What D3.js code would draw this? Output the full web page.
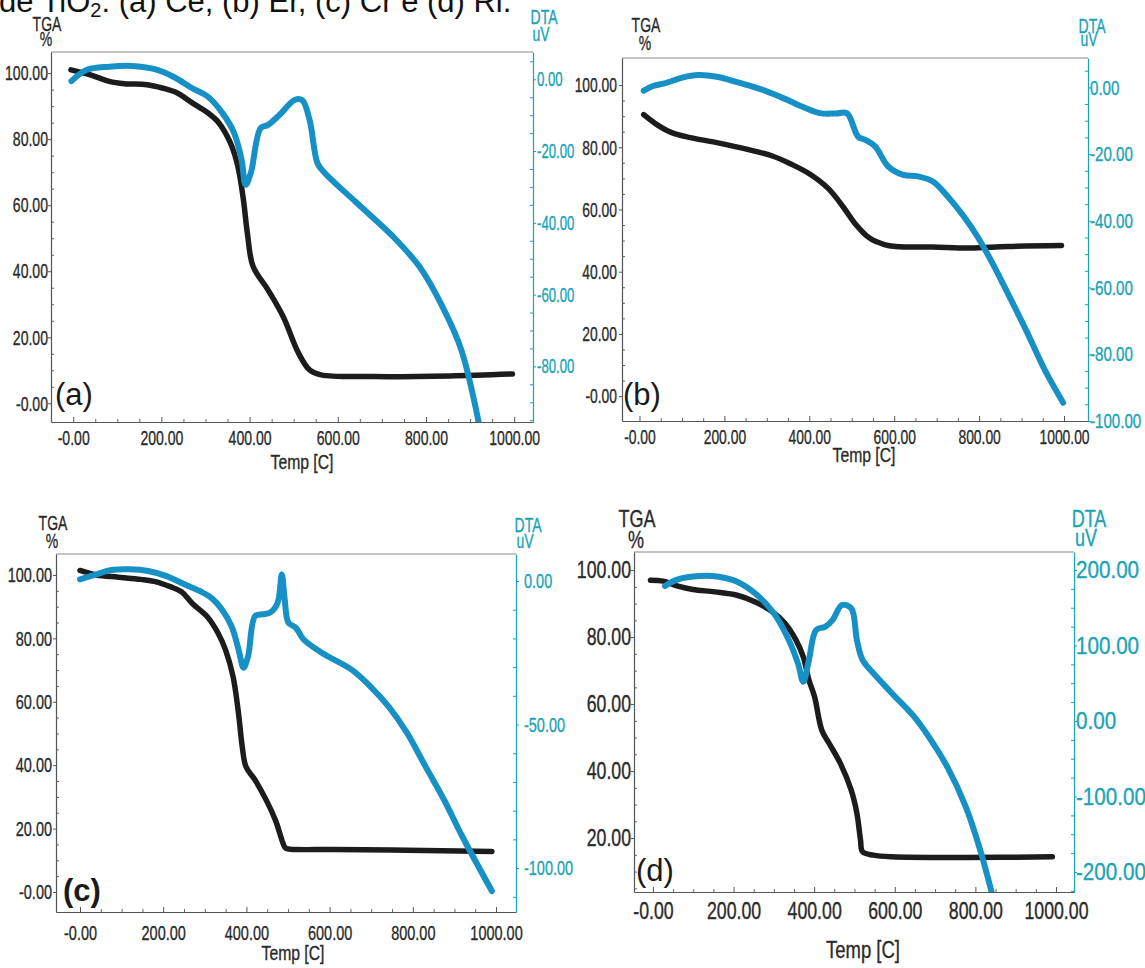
<!DOCTYPE html>
<html>
<head>
<meta charset="UTF-8">
<script src="https://cdn.jsdelivr.net/npm/d3@7"></script>
<style>
  body { margin: 0; background: #fff; }
  svg { display: block; font-family: "Liberation Sans", Arial, sans-serif; }
  .heavy { stroke-width: 0.35px; }
</style>
</head>
<body>
<svg id="chart" width="1145" height="968"></svg>
<script>
// ---- data ----
const tempTicks = [0, 200, 400, 600, 800, 1000];
const tgaTicks = [0, 20, 40, 60, 80, 100];
const dtaTicksA = [0, -20, -40, -60, -80];
const dtaTicksB = [0, -20, -40, -60, -80, -100];
const dtaTicksC = [0, -50, -100];
const dtaTicksD = [200, 100, 0, -100, -200];

// (a)
const tgaTempA = [-5, 39, 82, 116, 167, 202, 236, 270, 305, 330, 356, 373, 386, 395, 408, 442, 476, 511, 536, 562, 682, 854, 996];
const tgaValA  = [101, 99.5, 97.5, 96.8, 96.5, 95.5, 94, 91, 88, 85, 79, 72, 61.6, 51.5, 41.4, 34.3, 26.3, 15.2, 10.1, 8.6, 8.1, 8.3, 8.9];
const dtaTempA = [-4, 30, 82, 133, 185, 227, 270, 305, 339, 365, 382, 391, 403, 425, 442, 468, 502, 519, 536, 554, 571, 639, 725, 785, 837, 880, 925];
const dtaValA  = [-0.5, 2.6, 3.5, 3.7, 2.8, 0.7, -2.5, -4.8, -9.5, -15, -22.5, -29.4, -26, -13.6, -12.7, -9.9, -5.8, -5.8, -11.3, -23.4, -26.2, -34, -43.8, -52.2, -63.3, -75.4, -99];

// (b)
const tgaTempB = [10, 41, 76, 120, 182, 252, 313, 357, 401, 445, 480, 507, 542, 577, 603, 691, 779, 867, 994];
const tgaValB  = [90.5, 87.3, 84.7, 83.1, 81.5, 79.4, 77.2, 74.6, 71.4, 66.7, 60.8, 55.6, 50.8, 48.7, 48.1, 47.9, 47.6, 48.1, 48.4];
const dtaTempB = [10, 32, 59, 103, 138, 182, 234, 287, 340, 384, 428, 463, 489, 515, 533, 555, 586, 621, 656, 691, 726, 761, 796, 831, 867, 910, 954, 998];
const dtaValB  = [-1.0, 0.4, 1.2, 3.0, 3.7, 3.2, 1.4, -0.6, -3.3, -5.8, -7.8, -7.8, -7.8, -14.8, -15.8, -17.7, -23.7, -26.2, -26.7, -28.2, -32.7, -38.2, -44.7, -52.6, -61.6, -72.6, -84.5, -94.5];

// (c)
const tgaTempC = [0, 39, 92, 146, 181, 217, 244, 270, 306, 332, 350, 368, 381, 390, 399, 421, 448, 470, 492, 497, 608, 786, 990];
const tgaValC  = [101.4, 100, 99.3, 98.6, 97.9, 96.3, 94.7, 91, 86.8, 81.6, 76.3, 67.9, 56.3, 45.8, 39.5, 35.3, 28.9, 22.6, 14.2, 13.7, 13.4, 13.2, 12.8];
const dtaTempC = [0, 39, 75, 119, 164, 208, 252, 288, 315, 341, 364, 381, 393, 404, 421, 439, 457, 475, 485, 492, 501, 519, 537, 581, 652, 697, 741, 786, 830, 875, 919, 990];
const dtaValC  = [0.6, 2.3, 3.8, 4.1, 3.5, 1.7, -1.2, -3.5, -5.8, -9.9, -15.7, -23.8, -30.2, -26.2, -12.2, -11.6, -11.0, -7.6, 2.3, -6.4, -14.5, -16.3, -20.3, -25, -30.8, -36.6, -43.6, -52.9, -64.5, -76.2, -89, -108];

// (d)
const tgaTempD = [-6, 26, 62, 99, 154, 209, 254, 291, 327, 355, 373, 387, 401, 419, 437, 465, 492, 506, 515, 520, 547, 593, 776, 991];
const tgaValD  = [97, 96.7, 95.2, 94.2, 93.5, 92.5, 90.5, 88, 84.2, 79.1, 74.1, 67.2, 62.2, 52.2, 48.3, 42.3, 34.3, 27.4, 19.4, 15.9, 14.9, 14.4, 14.2, 14.4];
const dtaTempD = [30, 62, 117, 163, 209, 254, 300, 337, 360, 373, 387, 405, 428, 446, 469, 492, 506, 520, 547, 593, 648, 684, 730, 776, 812, 840];
const dtaValD  = [178.8, 187.6, 192, 191.1, 184.5, 168.8, 142.6, 107.3, 76, 52, 80.8, 120.5, 124.9, 133.8, 153.6, 149.3, 107.3, 80.8, 63.1, 36.6, 5.7, -20.8, -60.5, -113.5, -170.9, -226];

// ---- layout of each panel ----
const panels = [
  { letter: "(a)", tgaT: tgaTempA, tgaV: tgaValA, dtaT: dtaTempA, dtaV: dtaValA, dtaTicks: dtaTicksA, dtaMinor: 5,
    box: { l: 51, r: 533, t: 52, b: 422 }, xDom: [-50.3, 1042.6], tgaDom: [-5.66, 106.4], dtaDom: [-95.5, 7.6],
    fs: 21, sx: 0.67, rfs: 20, rsx: 0.66, lGap: 3, rGap: 4, xBase: 445,
    temp: { x: 302, y: 469, fs: 21, sx: 0.75 }, tga: { x: 47, y: 31, y2: 46, fs: 20, sx: 0.7 },
    dta: { x: 544, y: 24, y2: 41, fs: 20, sx: 0.7 }, let: { x: 55, y: 405, bold: false } },
  { letter: "(b)", tgaT: tgaTempB, tgaV: tgaValB, dtaT: dtaTempB, dtaV: dtaValB, dtaTicks: dtaTicksB, dtaMinor: 5,
    box: { l: 622, r: 1088, t: 58, b: 421 }, xDom: [-41.2, 1056.5], tgaDom: [-8.0, 108.7], dtaDom: [-100, 8.8],
    fs: 21, sx: 0.66, rfs: 21, rsx: 0.72, lGap: 5, rGap: 2, xBase: 444,
    temp: { x: 864, y: 462, fs: 21, sx: 0.75 }, tga: { x: 646, y: 32, y2: 50, fs: 20, sx: 0.7 },
    dta: { x: 1092, y: 33, y2: 46, fs: 20, sx: 0.7 }, let: { x: 623, y: 405, bold: false } },
  { letter: "(c)", tgaT: tgaTempC, tgaV: tgaValC, dtaT: dtaTempC, dtaV: dtaValC, dtaTicks: dtaTicksC, dtaMinor: 10,
    box: { l: 56, r: 516, t: 554, b: 912 }, xDom: [-57.7, 1048], tgaDom: [-6.3, 106.6], dtaDom: [-115.3, 9.4],
    fs: 21, sx: 0.69, rfs: 21, rsx: 0.69, lGap: 4, rGap: 8, xBase: 940,
    temp: { x: 293, y: 960, fs: 21, sx: 0.75 }, tga: { x: 53, y: 530, y2: 548, fs: 20, sx: 0.7 },
    dta: { x: 528, y: 532, y2: 548, fs: 20, sx: 0.7 }, let: { x: 63, y: 901, bold: true } },
  { letter: "(d)", tgaT: tgaTempD, tgaV: tgaValD, dtaT: dtaTempD, dtaV: dtaValD, dtaTicks: dtaTicksD, dtaMinor: 25,
    box: { l: 634, r: 1074, t: 552, b: 892 }, xDom: [-47, 1044.7], tgaDom: [3.9, 105.4], dtaDom: [-226.5, 223.8],
    fs: 23, sx: 0.77, rfs: 24, rsx: 0.86, lGap: 3, rGap: 2, xBase: 919,
    temp: { x: 863, y: 958, fs: 24, sx: 0.77 }, tga: { x: 637, y: 527, y2: 548, fs: 24, sx: 0.75 },
    dta: { x: 1089, y: 527, y2: 546, fs: 24, sx: 0.75 }, let: { x: 636, y: 881, bold: false } }
];

const ink = "#2a2a2a";
const blue = "#1790c6";
const teal = "#1ba3b6";
const fmtZero = v => v === 0 ? "-0.00" : v.toFixed(2);
const fmtDta = v => v.toFixed(2);

const svg = d3.select("#chart");

// caption cut off at the top edge of the picture
const cap = svg.append("text").attr("x", -1).attr("y", 12)
  .attr("font-size", 31).attr("fill", "#111");
cap.append("tspan").text("de TiO");
cap.append("tspan").attr("font-size", 20).attr("dy", 5).text("2");
cap.append("tspan").attr("dy", -5).text(": (a) Ce, (b) Er, (c) Cr e (d) Ri.");

function styleAxis(g, fs, sx, color, domainColor) {
  g.attr("font-family", null).attr("font-size", null);
  g.select(".domain").attr("stroke", domainColor).attr("stroke-width", 1.2);
  g.selectAll(".tick line").attr("stroke", domainColor);
  g.selectAll(".tick text").attr("fill", color).attr("stroke", color).attr("class", "heavy")
    .style("font-size", fs + "px").attr("transform", `scale(${sx},1)`);
}

function label(x, y, txt, fs, sx, color, anchor) {
  svg.append("text").attr("transform", `translate(${x},${y}) scale(${sx},1)`)
    .attr("text-anchor", anchor || "middle").style("font-size", fs + "px")
    .attr("fill", color).attr("stroke", color).attr("class", "heavy").text(txt);
}

panels.forEach((p, i) => {
  const b = p.box;
  const x = d3.scaleLinear().domain(p.xDom).range([b.l, b.r]);
  const yl = d3.scaleLinear().domain(p.tgaDom).range([b.b, b.t]);
  const yr = d3.scaleLinear().domain(p.dtaDom).range([b.b, b.t]);
  const g = svg.append("g");

  // top frame line
  g.append("line").attr("x1", b.l).attr("x2", b.r).attr("y1", b.t).attr("y2", b.t)
    .attr("stroke", "#8a8a8a").attr("stroke-width", 1);

  const inX = d3.range(0, 1001, 50).filter(v => tempTicks.indexOf(v) < 0);
  const inL = d3.range(0, 101, 5).filter(v => v >= p.tgaDom[0] && tgaTicks.indexOf(v) < 0);
  const inR = d3.range(-250, 251, p.dtaMinor).filter(v => v >= p.dtaDom[0] && v <= p.dtaDom[1] && p.dtaTicks.indexOf(v) < 0);

  // minor ticks
  g.append("g").attr("transform", `translate(0,${b.b})`)
    .call(d3.axisBottom(x).tickValues(inX).tickFormat("").tickSizeInner(-3).tickSizeOuter(0))
    .call(s => { s.select(".domain").remove(); s.selectAll("line").attr("stroke", "#666"); });
  g.append("g").attr("transform", `translate(${b.l},0)`)
    .call(d3.axisLeft(yl).tickValues(inL).tickFormat("").tickSizeInner(-3).tickSizeOuter(0))
    .call(s => { s.select(".domain").remove(); s.selectAll("line").attr("stroke", "#666"); });
  g.append("g").attr("transform", `translate(${b.r},0)`)
    .call(d3.axisRight(yr).tickValues(inR).tickFormat("").tickSizeInner(-3).tickSizeOuter(0))
    .call(s => { s.select(".domain").remove(); s.selectAll("line").attr("stroke", teal); });

  // bottom axis
  const xPad = p.xBase - b.b - 0.71 * p.fs;
  g.append("g").attr("transform", `translate(0,${b.b})`)
    .call(d3.axisBottom(x).tickValues(tempTicks).tickFormat(fmtZero)
      .tickSizeInner(-5).tickSizeOuter(0).tickPadding(xPad))
    .call(s => styleAxis(s, p.fs, p.sx, ink, "#555"));

  // left axis (TGA)
  g.append("g").attr("transform", `translate(${b.l},0)`)
    .call(d3.axisLeft(yl).tickValues(tgaTicks.filter(v => v >= p.tgaDom[0]))
      .tickFormat(fmtZero).tickSizeInner(3).tickSizeOuter(0).tickPadding(p.lGap / p.sx - 3))
    .call(s => styleAxis(s, p.fs, p.sx, ink, "#555"));

  // right axis (DTA)
  g.append("g").attr("transform", `translate(${b.r},0)`)
    .call(d3.axisRight(yr).tickValues(p.dtaTicks).tickFormat(fmtDta)
      .tickSizeInner(3).tickSizeOuter(0).tickPadding(p.rGap / p.rsx - 3))
    .call(s => styleAxis(s, p.rfs, p.rsx, teal, teal));

  // curves
  const clipId = "clip" + i;
  svg.append("clipPath").attr("id", clipId).append("rect")
    .attr("x", b.l).attr("y", b.t).attr("width", b.r - b.l).attr("height", b.b - b.t);

  const tga = p.tgaT.map((t, k) => [t, p.tgaV[k]]);
  const dta = p.dtaT.map((t, k) => [t, p.dtaV[k]]);
  const lineL = d3.line().x(d => x(d[0])).y(d => yl(d[1])).curve(d3.curveCatmullRom.alpha(0.5));
  const lineR = d3.line().x(d => x(d[0])).y(d => yr(d[1])).curve(d3.curveCatmullRom.alpha(0.5));

  g.append("path").datum(tga).attr("clip-path", `url(#${clipId})`)
    .attr("d", lineL).attr("fill", "none").attr("stroke", "#1c1c1c")
    .attr("stroke-width", 5.5).attr("stroke-linecap", "round").attr("stroke-linejoin", "round");
  g.append("path").datum(dta).attr("clip-path", `url(#${clipId})`)
    .attr("d", lineR).attr("fill", "none").attr("stroke", blue)
    .attr("stroke-width", 6).attr("stroke-linecap", "round").attr("stroke-linejoin", "round");

  // axis titles
  label(p.tga.x, p.tga.y, "TGA", p.tga.fs, p.tga.sx, ink);
  label(p.tga.x - 1, p.tga.y2, "%", p.tga.fs, p.tga.sx, ink);
  label(p.dta.x, p.dta.y, "DTA", p.dta.fs, p.dta.sx, teal);
  label(p.dta.x - 3, p.dta.y2, "uV", p.dta.fs, p.dta.sx, teal);
  label(p.temp.x, p.temp.y, "Temp [C]", p.temp.fs, p.temp.sx, ink);

  svg.append("text").attr("x", p.let.x).attr("y", p.let.y)
    .style("font-size", "31px").attr("font-weight", p.let.bold ? "bold" : null)
    .attr("fill", "#1a1a1a").text(p.letter);
});
</script>
</body>
</html>
